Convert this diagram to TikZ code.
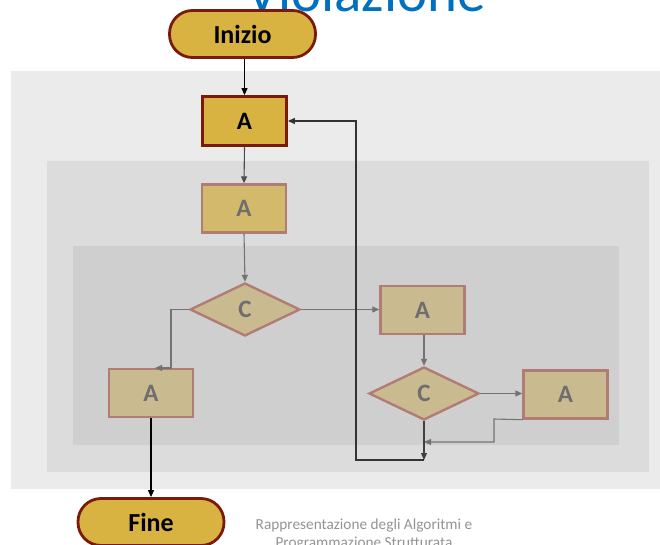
\documentclass[tikz,border=0pt]{standalone}
\usepackage{fontspec}
\setmainfont{Carlito}
\usetikzlibrary{shapes.geometric,arrows.meta}
\definecolor{gold}{HTML}{D9B342}
\definecolor{dred}{HTML}{7B1A0A}
\definecolor{fadegoldA}{HTML}{D3B96C}
\definecolor{fadegold}{HTML}{C9BA8F}
\definecolor{fadered}{HTML}{B27C76}
\definecolor{fadetext}{HTML}{6E6E6E}
\definecolor{panelA}{HTML}{EBEBEB}
\definecolor{panelB}{HTML}{DCDCDC}
\definecolor{panelC}{HTML}{CFCFCF}
\definecolor{titleblue}{HTML}{0070C0}
\tikzset{
  term/.style={draw=dred,fill=gold,line width=2.8pt,rounded corners=23pt,minimum width=146pt,minimum height=47pt,inner sep=0pt,font=\fontsize{26}{30}\selectfont\bfseries},
  boxA/.style={draw=dred,fill=gold,line width=2.8pt,minimum width=84pt,minimum height=49pt,inner sep=0pt,font=\fontsize{25}{28}\selectfont\bfseries},
  fbox/.style={draw=fadered,fill=fadegold,line width=2.4pt,minimum width=84pt,minimum height=48pt,inner sep=0pt,text=fadetext,font=\fontsize{25}{28}\selectfont\bfseries},
  fdia/.style={diamond,draw=fadered,fill=fadegold,line width=2.4pt,minimum width=110pt,minimum height=53pt,inner sep=0pt,text=fadetext,font=\fontsize{25}{28}\selectfont\bfseries},
  arr/.style={-{Triangle[length=7pt,width=6pt]},line width=1.1pt},
}
\begin{document}
\begin{tikzpicture}[x=1pt,y=-1pt]
\useasboundingbox (0,0) rectangle (660,545);
% panels
\fill[panelA] (11,71) rectangle (660,489);
\fill[panelB] (47,161) rectangle (649,472);
\fill[panelC] (73,246) rectangle (619,445);
% title
\node[anchor=base,text=titleblue,font=\fontsize{57}{64}\selectfont,inner sep=0pt] (title) at (366,12) {Violazione};
% nodes
\node[term] (inizio) at (242.5,34) {Inizio};
\node[boxA] (a1) at (244.5,121) {A};
\node[fbox,fill=fadegoldA] (a2) at (244,208.5) {A};
\node[fdia] (c1) at (245,309.5) {C};
\node[fbox] (a3) at (151,393) {A};
\node[fbox] (a4) at (422.5,310) {A};
\node[fdia] (c2) at (424,393.5) {C};
\node[fbox] (a5) at (565.5,394.5) {A};
\node[term] (fine) at (151,522) {Fine};
% footer
\node[text=gray!85,font=\fontsize{15.3}{18.5}\selectfont,align=center,anchor=base,inner sep=0pt] (foot) at (364,547.5) {Rappresentazione degli Algoritmi e\\Programmazione Strutturata};
% coordinates
\coordinate (k1) at (171,368);
\coordinate (k1t) at (155,368);
\coordinate (k2) at (494,419);
\coordinate (k3) at (494,442);
\coordinate (j1) at (424,442);
\coordinate (j2) at (424,460);
\coordinate (l1) at (356,460);
\coordinate (l2) at (356,121);
% connectors
\draw[arr,black] (a1.north |- inizio.south) -- (a1.north);
\draw[arr,black!70] (a1.south) -- (a2.north);
\draw[arr,black!55] (a2.south) -- (c1.north);
\draw[arr,black!55] (c1.west) -| (k1) -- (k1t);
\draw[arr,black!55] (c1.east) -- (a4.west |- c1.east);
\draw[arr,black!55] (a4.south -| c2.north) -- (c2.north);
\draw[arr,black!55] (c2.east) -- (a5.west |- c2.east);
\draw[arr,black!55] (a5.south west) -- (k2) -- (k3) -- (j1);
\draw[arr,black!75] (c2.south) -- (j2);
\draw[arr,black!80] (j2) -- (l1) -- (l2) -- (a1.east);
\draw[arr,black] (a3.south) -- (fine.north -| a3.south);
\end{tikzpicture}
\end{document}
